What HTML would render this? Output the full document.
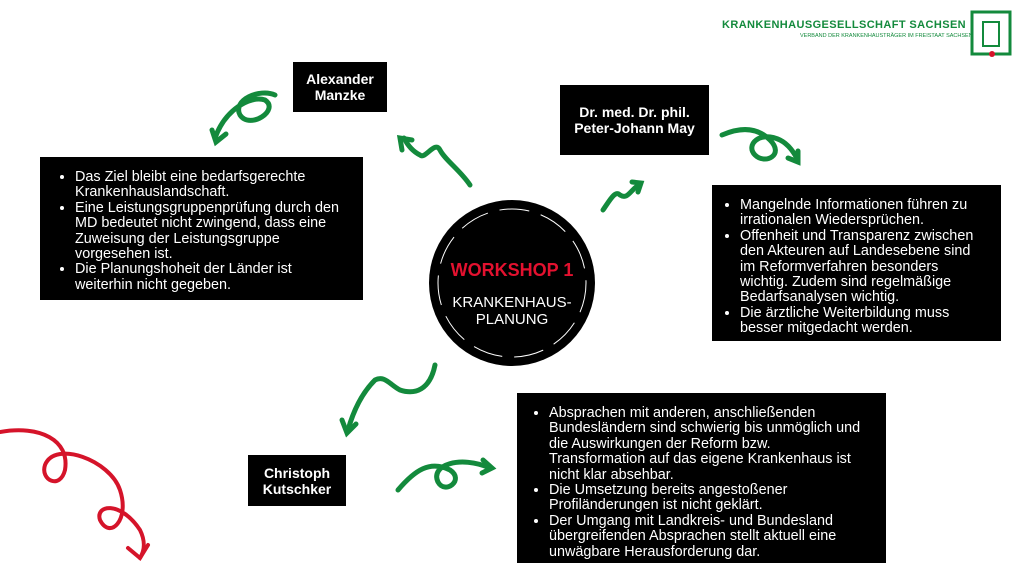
<!DOCTYPE html>
<html><head><meta charset="utf-8"><style>
body{margin:0;width:1024px;height:576px;background:#fff;position:relative;overflow:hidden;font-family:"Liberation Sans",sans-serif}
.b{position:absolute;background:#000;color:#fff;box-sizing:border-box}
.n{font-weight:bold;font-size:14px;line-height:16px;text-align:center;display:flex;align-items:center;justify-content:center}
ul{margin:0;padding:0 0 0 20px;font-size:14.4px;line-height:15.4px}
li{margin:0}
</style></head><body>
<svg width="1024" height="576" style="position:absolute;left:0;top:0">
<g fill="none" stroke="#138a3c" stroke-width="5" stroke-linecap="round">
<path d="M215 138 C225 110 250 95 265 100 C280 110 250 130 240 115 C232 100 260 88 275 95"/>
<path d="M212 130 l4 12 l10 -8"/>
<path d="M470 185 C460 170 445 160 440 150 C435 140 425 160 420 155 C410 150 405 140 404 138"/>
<path d="M402 150 l-2 -12 l12 2"/>
<path d="M603 210 C610 200 615 190 620 195 C628 200 630 190 640 184"/>
<path d="M632 182 l9 1 l-3 9"/>
<path d="M722 135 C745 125 760 130 770 140 C785 155 765 165 755 155 C745 145 760 130 780 140 C790 145 795 155 798 160"/>
<path d="M788 158 l10 4 l0 -11"/>
<path d="M435 365 C430 390 415 395 400 390 C390 385 385 375 375 380 C365 390 355 405 348 430"/>
<path d="M342 420 l5 13 l9 -9"/>
<path d="M398 490 C415 470 430 460 450 470 C465 480 445 495 438 482 C430 465 460 455 490 468"/>
<path d="M483 460 l9 8 l-10 5"/>
</g>
<g fill="none" stroke="#d5142a" stroke-width="4" stroke-linecap="round">
<path d="M0 432 C40 425 70 440 65 470 C60 490 40 480 45 465 C55 440 110 460 120 490 C130 520 110 540 100 520 C95 505 120 500 140 530 C145 540 145 550 140 558"/>
<path d="M128 548 l12 10 l8 -13"/>
</g>
<circle cx="512" cy="283" r="83" fill="#000"/>
<circle cx="512" cy="283" r="74" fill="none" stroke="#fff" stroke-width="1" stroke-dasharray="30 12"/>
<rect x="972" y="12" width="38" height="42" fill="none" stroke="#138a3c" stroke-width="3"/>
<rect x="983" y="22" width="16" height="24" fill="none" stroke="#138a3c" stroke-width="2"/>
<circle cx="992" cy="54" r="3" fill="#d5142a"/>
</svg>
<div style="position:absolute;left:722px;top:19px;color:#138a3c;font-weight:bold;font-size:11px;letter-spacing:0.4px;white-space:nowrap">KRANKENHAUSGESELLSCHAFT SACHSEN</div>
<div style="position:absolute;left:800px;top:33px;color:#138a3c;font-size:5.5px;white-space:nowrap">VERBAND DER KRANKENHAUSTRÄGER IM FREISTAAT SACHSEN</div>
<div style="position:absolute;left:430px;top:260px;width:164px;text-align:center;color:#e3112f;font-weight:bold;font-size:18px">WORKSHOP 1</div>
<div style="position:absolute;left:430px;top:294px;width:164px;text-align:center;color:#fff;font-size:15px;line-height:17px">KRANKENHAUS-<br>PLANUNG</div>
<div class="b n" style="left:293px;top:62px;width:94px;height:50px">Alexander<br>Manzke</div>
<div class="b n" style="left:560px;top:85px;width:149px;height:70px">Dr. med. Dr. phil.<br>Peter-Johann May</div>
<div class="b n" style="left:248px;top:455px;width:98px;height:51px">Christoph<br>Kutschker</div>
<div class="b" style="left:40px;top:157px;width:323px;height:143px;padding:13px 12px 0 35px"><ul style="padding-left:0">
<li>Das Ziel bleibt eine bedarfsgerechte Krankenhauslandschaft.</li>
<li>Eine Leistungsgruppenprüfung durch den MD bedeutet nicht zwingend, dass eine Zuweisung der Leistungsgruppe vorgesehen ist.</li>
<li>Die Planungshoheit der Länder ist weiterhin nicht gegeben.</li></ul></div>
<div class="b" style="left:712px;top:185px;width:289px;height:156px;padding:13px 18px 0 28px"><ul style="padding-left:0">
<li>Mangelnde Informationen führen zu irrationalen Wiedersprüchen.</li>
<li>Offenheit und Transparenz zwischen den Akteuren auf Landesebene sind im Reformverfahren besonders wichtig. Zudem sind regelmäßige Bedarfsanalysen wichtig.</li>
<li>Die ärztliche Weiterbildung muss besser mitgedacht werden.</li></ul></div>
<div class="b" style="left:517px;top:393px;width:369px;height:170px;padding:13px 20px 0 32px"><ul style="padding-left:0">
<li>Absprachen mit anderen, anschließenden Bundesländern sind schwierig bis unmöglich und die Auswirkungen der Reform bzw. Transformation auf das eigene Krankenhaus ist nicht klar absehbar.</li>
<li>Die Umsetzung bereits angestoßener Profiländerungen ist nicht geklärt.</li>
<li>Der Umgang mit Landkreis- und Bundesland übergreifenden Absprachen stellt aktuell eine unwägbare Herausforderung dar.</li></ul></div>
</body></html>
